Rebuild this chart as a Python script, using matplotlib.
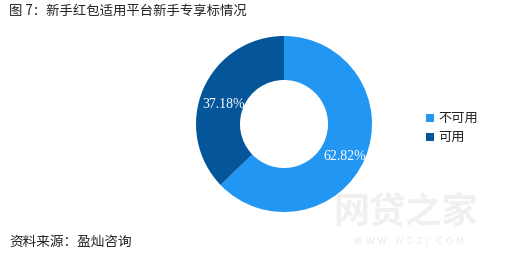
import matplotlib
matplotlib.use("Agg")
import matplotlib.pyplot as plt
from matplotlib.patches import Rectangle

plt.rcParams['font.family'] = ['Noto Sans CJK SC', 'DejaVu Sans']

categories = ["不可用", "可用"]
values = [62.82, 37.18]
colors = ["#2196F3", "#04559A"]
title = "图 7：新手红包适用平台新手专享标情况"
source = "资料来源：盈灿咨询"

W, H = 506, 256
fig = plt.figure(figsize=(W / 100, H / 100), dpi=100)
fig.patch.set_facecolor("white")

# watermark (behind everything)
fig.text(405 / W, 1 - 212 / H, "网贷之家", fontsize=26, va="center", ha="center",
         color="#f0f0f0", fontweight="bold", zorder=0)
fig.text(409 / W, 1 - 241 / H, "W W W . W D Z J . C O M", fontsize=6.5, va="center",
         ha="center", color="#ebebeb", family=["DejaVu Sans"], zorder=0)

cx, cy, r = 284, 124, 88
ax = fig.add_axes([(cx - r) / W, (H - cy - r) / H, 2 * r / W, 2 * r / H])
ax.patch.set_alpha(0)
wedges, texts, autotexts = ax.pie(
    values, colors=colors, startangle=90, counterclock=False,
    radius=1.0, wedgeprops=dict(width=0.5, edgecolor="none"),
    autopct=lambda p: f"{p:.2f}%", pctdistance=0.75,
    textprops=dict(color="white", fontsize=10, family=["Liberation Serif"]))
for t in autotexts:
    t.set_va("top")
ax.set_xlim(-1, 1)
ax.set_ylim(-1, 1)
ax.set_aspect("equal")
ax.axis("off")

# title and source
fig.text(9 / W, 1 - 11 / H, title, fontsize=9.6, va="center", ha="left", color="#222222")
fig.text(9 / W, 1 - 242 / H, source, fontsize=9.8, va="center", ha="left", color="#222222")

# legend
for i, (lab, col) in enumerate(zip(categories, colors)):
    y = 118 + i * 19
    fig.patches.append(Rectangle((426 / W, 1 - (y + 4) / H), 8 / W, 8 / H,
                                 transform=fig.transFigure, facecolor=col,
                                 edgecolor="none"))
    fig.text(438 / W, 1 - y / H, lab, fontsize=9.5, va="center", ha="left", color="#222222")

fig.savefig("out.png", dpi=100, facecolor="white")
